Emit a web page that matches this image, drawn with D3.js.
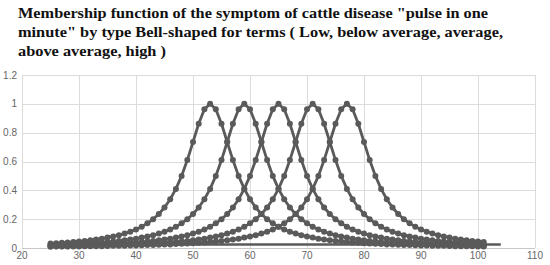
<!DOCTYPE html>
<html><head><meta charset="utf-8">
<script src="https://cdn.jsdelivr.net/npm/d3@7"></script>
<style>html,body{margin:0;padding:0;background:#fff;}svg{display:block;}</style>
</head><body>
<svg id="c" width="550" height="265"></svg>
<script>
const titleLines = [
  'Membership function of the symptom of cattle disease "pulse in one',
  'minute" by type Bell-shaped for terms ( Low, below average, average,',
  'above average, high )'
];
const xTicks = [20,30,40,50,60,70,80,90,100,110];
const yTicks = [0,0.2,0.4,0.6,0.8,1,1.2];
const yTickLabels = ["0","0.2","0.4","0.6","0.8","1","1.2"];
const xStart = 25; // x values run 25..101, step 1
const terms = ["Low","Below average","Average","Above average","High"];

const low = [0.031,0.033,0.036,0.038,0.042,0.045,0.049,0.054,0.059,0.065,0.072,0.080,0.089,0.100,0.113,0.129,0.148,0.171,0.200,0.236,0.281,0.338,0.410,0.500,0.610,0.735,0.862,0.962,
 1.000,
 0.962,0.862,0.735,0.610,0.500,0.410,0.338,0.281,0.236,0.200,0.171,0.148,0.129,0.113,0.100,0.089,0.080,0.072,0.065,0.059,0.054,0.049,0.045,0.042,0.038,0.036,0.033,0.031,0.029,0.027,0.025,0.024,0.022,0.021,0.020,0.019,0.018,0.017,0.016,0.015,0.015,0.014,0.013,0.013,0.012,0.012,0.011,0.011];
const belowAverage = [0.021,0.022,0.024,0.025,0.027,0.029,
 0.031,0.033,0.036,0.038,0.042,0.045,0.049,0.054,0.059,0.065,0.072,0.080,0.089,0.100,0.113,0.129,0.148,0.171,0.200,0.236,0.281,0.338,0.410,0.500,0.610,0.735,0.862,0.962,
 1.000,
 0.962,0.862,0.735,0.610,0.500,0.410,0.338,0.281,0.236,0.200,0.171,0.148,0.129,0.113,0.100,0.089,0.080,0.072,0.065,0.059,0.054,0.049,0.045,0.042,0.038,0.036,0.033,0.031,0.029,0.027,0.025,0.024,0.022,0.021,0.020,0.019,0.018,0.017,0.016,0.015,0.015,0.014];
const average = [0.015,0.016,0.017,0.018,0.019,0.020,0.021,0.022,0.024,0.025,0.027,0.029,
 0.031,0.033,0.036,0.038,0.042,0.045,0.049,0.054,0.059,0.065,0.072,0.080,0.089,0.100,0.113,0.129,0.148,0.171,0.200,0.236,0.281,0.338,0.410,0.500,0.610,0.735,0.862,0.962,
 1.000,
 0.962,0.862,0.735,0.610,0.500,0.410,0.338,0.281,0.236,0.200,0.171,0.148,0.129,0.113,0.100,0.089,0.080,0.072,0.065,0.059,0.054,0.049,0.045,0.042,0.038,0.036,0.033,0.031,0.029,0.027,0.025,0.024,0.022,0.021,0.020,0.019];
const aboveAverage = [0.012,0.012,0.013,0.013,0.014,0.015,
 0.015,0.016,0.017,0.018,0.019,0.020,0.021,0.022,0.024,0.025,0.027,0.029,
 0.031,0.033,0.036,0.038,0.042,0.045,0.049,0.054,0.059,0.065,0.072,0.080,0.089,0.100,0.113,0.129,0.148,0.171,0.200,0.236,0.281,0.338,0.410,0.500,0.610,0.735,0.862,0.962,
 1.000,
 0.962,0.862,0.735,0.610,0.500,0.410,0.338,0.281,0.236,0.200,0.171,0.148,0.129,0.113,0.100,0.089,0.080,0.072,0.065,0.059,0.054,0.049,0.045,0.042,0.038,0.036,0.033,0.031,0.029,0.027];
const high = [0.009,0.010,0.010,0.010,0.011,0.011,
 0.012,0.012,0.013,0.013,0.014,0.015,
 0.015,0.016,0.017,0.018,0.019,0.020,0.021,0.022,0.024,0.025,0.027,0.029,
 0.031,0.033,0.036,0.038,0.042,0.045,0.049,0.054,0.059,0.065,0.072,0.080,0.089,0.100,0.113,0.129,0.148,0.171,0.200,0.236,0.281,0.338,0.410,0.500,0.610,0.735,0.862,0.962,
 1.000,
 0.962,0.862,0.735,0.610,0.500,0.410,0.338,0.281,0.236,0.200,0.171,0.148,0.129,0.113,0.100,0.089,0.080,0.072,0.065,0.059,0.054,0.049,0.045,0.042];
// straight return segment visible along the bottom
const bottomX = [36,104];
const bottomY = [0.025,0.025];

const seriesList = [low, belowAverage, average, aboveAverage, high];

const svg = d3.select("#c");
const x = d3.scaleLinear().domain([20,110]).range([22,535]);
const y = d3.scaleLinear().domain([0,1.2]).range([248,75]);

// title
const tw = [470, 485, 148];
svg.append("g").selectAll("text").data(titleLines).join("text")
  .attr("x",18).attr("y",(d,i)=>18+i*19)
  .attr("textLength",(d,i)=>tw[i]).attr("lengthAdjust","spacingAndGlyphs")
  .style("font-family","'Liberation Serif','Times New Roman',serif")
  .style("font-weight","bold").style("font-size","15.5px").style("fill","#111")
  .text(d=>d);

// grid
const grid = svg.append("g");
grid.selectAll("line.v").data(xTicks).join("line").attr("class","v")
  .attr("x1",d=>x(d)+0.5).attr("x2",d=>x(d)+0.5).attr("y1",y(1.2)).attr("y2",y(0))
  .attr("stroke","#dcdcdc").attr("stroke-width",1);
grid.selectAll("line.h").data(yTicks).join("line").attr("class","h")
  .attr("y1",d=>Math.round(y(d))+0.5).attr("y2",d=>Math.round(y(d))+0.5).attr("x1",x(20)).attr("x2",x(110))
  .attr("stroke",d=>d===0?"#c8c8c8":"#dcdcdc").attr("stroke-width",1);

// axes labels
const lab = svg.append("g").style("font-family","'Liberation Sans',Arial,sans-serif").style("font-size","10px").style("fill","#666");
lab.selectAll("text.y").data(yTicks).join("text").attr("class","y")
  .attr("x",17).attr("y",d=>y(d)+3.5).attr("text-anchor","end").text((d,i)=>yTickLabels[i]);
lab.selectAll("text.x").data(xTicks).join("text").attr("class","x")
  .attr("x",d=>x(d)).attr("y",259).attr("text-anchor","middle").text(d=>d);

const col = "#5a5a5a";
const line = d3.line().x(d=>x(d[0])).y(d=>y(d[1]));

// bottom straight segment
svg.append("path").datum(bottomX.map((v,i)=>[v,bottomY[i]]))
  .attr("d",line).attr("fill","none").attr("stroke",col).attr("stroke-width",2.5);

seriesList.forEach((vals,k)=>{
  const pts = vals.map((v,i)=>[xStart+i, v]);
  const g = svg.append("g").attr("class","series").attr("data-term",terms[k]);
  g.append("path").datum(pts).attr("d",line).attr("fill","none")
    .attr("stroke",col).attr("stroke-width",2.8).attr("stroke-linejoin","round");
  g.selectAll("circle").data(pts).join("circle")
    .attr("cx",d=>x(d[0])).attr("cy",d=>y(d[1])).attr("r",3).attr("fill",col);
});
</script>
</body></html>
